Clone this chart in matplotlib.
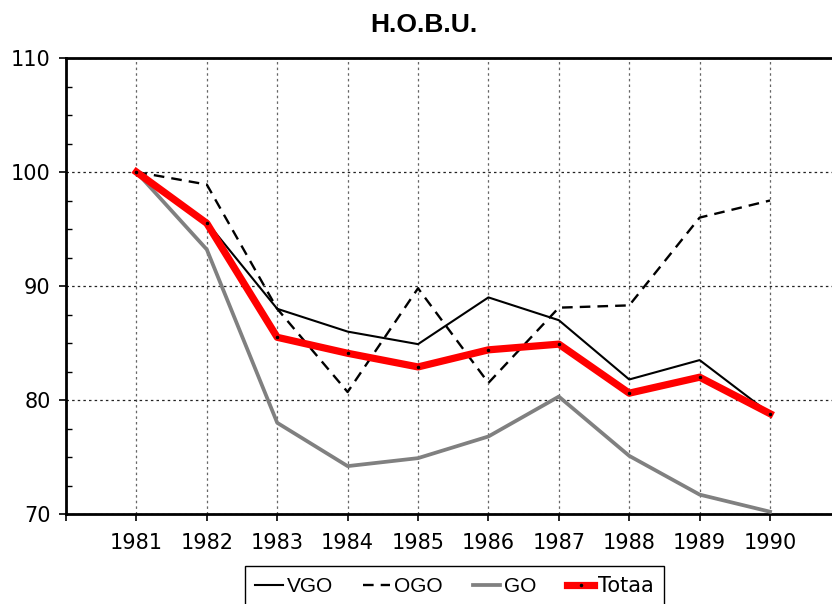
import numpy as np
import matplotlib
matplotlib.use('Agg')
import matplotlib.pyplot as plt
from matplotlib.ticker import MultipleLocator

years = [1981, 1982, 1983, 1984, 1985, 1986, 1987, 1988, 1989, 1990]
vgo = [100, 95.6, 88.0, 86.0, 84.9, 89.0, 87.0, 81.8, 83.5, 78.8]
ogo = [100, 98.9, 88.0, 80.7, 89.8, 81.5, 88.1, 88.3, 96.0, 97.5]
go = [100, 93.2, 78.0, 74.2, 74.9, 76.8, 80.3, 75.1, 71.7, 70.2]
totaal = [100, 95.5, 85.5, 84.1, 82.9, 84.4, 84.9, 80.6, 82.0, 78.8]
series_names = ["VGO", "OGO", "GO", "Totaa"]
title = "H.O.B.U."

fig = plt.figure(figsize=(8.32, 6.04), dpi=100)
ax = fig.add_axes([66 / 832, 90 / 604, 1 - 66 / 832, (514 - 58) / 604])

# grid first so the lines sit on top
ax.set_axisbelow(True)
ax.grid(True, which='major', axis='x', color='#666666', linestyle=(0, (2, 2.5)), linewidth=0.9)
ax.grid(True, which='major', axis='y', color='#222222', linestyle=(0, (2, 2.5)), linewidth=0.9)

ax.plot(years, go, color='#808080', lw=2.7, label=series_names[2], zorder=3)
ax.plot(years, vgo, color='black', lw=1.5, label=series_names[0], zorder=4)
ax.plot(years, ogo, color='black', lw=1.7, linestyle=(0, (4.5, 3)), label=series_names[1], zorder=4)
ax.plot(years, totaal, color='#ff0000', lw=5.2, marker='.', markersize=3,
        markerfacecolor='black', markeredgecolor='black', label=series_names[3], zorder=5)

ax.set_xlim(1980, 1990.88)
ax.set_ylim(70, 110)
ax.set_xticks(list(range(1980, 1991)))
ax.set_xticklabels([''] + [str(y) for y in years])
ax.set_yticks([70, 80, 90, 100, 110])
ax.yaxis.set_minor_locator(MultipleLocator(2.5))

for lab in ax.get_xticklabels() + ax.get_yticklabels():
    lab.set_fontfamily('DejaVu Sans')
    lab.set_fontsize(15)
ax.tick_params(axis='x', which='major', direction='out', length=5, width=1.2, pad=9)
ax.tick_params(axis='y', which='major', direction='out', length=5, width=1.2, pad=6)
ax.tick_params(axis='y', which='minor', direction='in', length=4, width=1)

for s in ['left', 'bottom', 'top']:
    ax.spines[s].set_linewidth(2)
    ax.spines[s].set_color('black')
ax.spines['right'].set_visible(False)

fig.text(423.5 / 832, 1 - 24.5 / 604, title, ha='center', va='center',
         fontsize=19, fontweight='bold', family=['Liberation Sans', 'DejaVu Sans'])

h, l = ax.get_legend_handles_labels()
order = [1, 2, 0, 3]
leg = fig.legend([h[i] for i in order], [l[i] for i in order], ncol=4,
                 loc='upper left', bbox_to_anchor=(245 / 832, 1 - 566 / 604),
                 frameon=True, fancybox=False, edgecolor='black', framealpha=1,
                 fontsize=15, handlelength=1.3, handletextpad=0.2,
                 columnspacing=1.45, borderpad=0.5, borderaxespad=0)
leg.get_frame().set_linewidth(1)
for t in leg.get_texts()[:3]:
    t.set_fontfamily(['Liberation Sans', 'DejaVu Sans'])
leg.get_texts()[3].set_fontfamily('DejaVu Sans')

fig.savefig('out.png', dpi=100)
